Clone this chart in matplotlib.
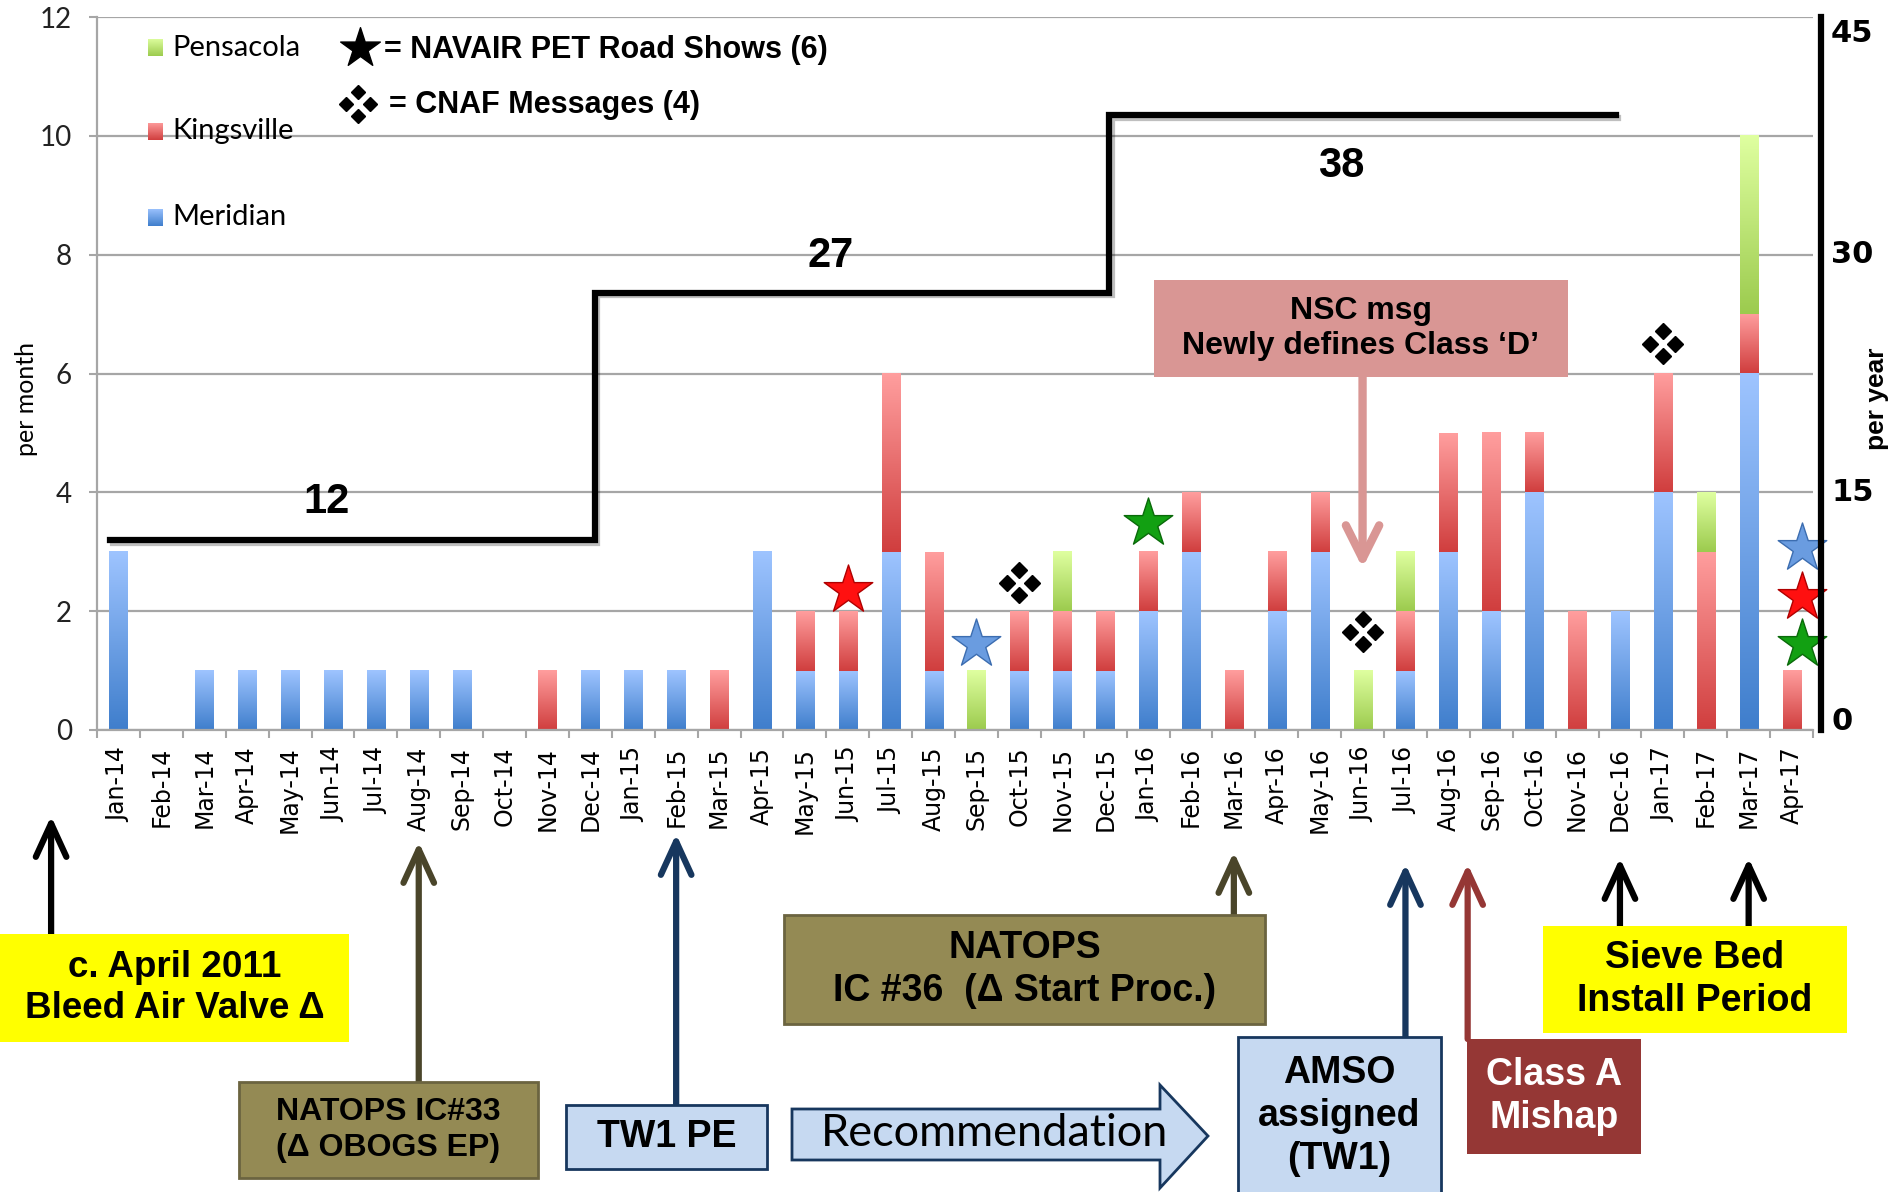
import numpy as np
import matplotlib.pyplot as plt
from matplotlib.colors import LinearSegmentedColormap
from matplotlib.patches import Rectangle, Polygon, FancyArrowPatch
from matplotlib.transforms import offset_copy
import matplotlib.patheffects as pe

# data
months = ['Jan-14', 'Feb-14', 'Mar-14', 'Apr-14', 'May-14', 'Jun-14', 'Jul-14', 'Aug-14',
          'Sep-14', 'Oct-14', 'Nov-14', 'Dec-14', 'Jan-15', 'Feb-15', 'Mar-15', 'Apr-15',
          'May-15', 'Jun-15', 'Jul-15', 'Aug-15', 'Sep-15', 'Oct-15', 'Nov-15', 'Dec-15',
          'Jan-16', 'Feb-16', 'Mar-16', 'Apr-16', 'May-16', 'Jun-16', 'Jul-16', 'Aug-16',
          'Sep-16', 'Oct-16', 'Nov-16', 'Dec-16', 'Jan-17', 'Feb-17', 'Mar-17', 'Apr-17']
meridian = [3, 0, 1, 1, 1, 1, 1, 1, 1, 0, 0, 1, 1, 1, 0, 3, 1, 1, 3, 1,
            0, 1, 1, 1, 2, 3, 0, 2, 3, 0, 1, 3, 2, 4, 0, 2, 4, 0, 6, 0]
kingsville = [0, 0, 0, 0, 0, 0, 0, 0, 0, 0, 1, 0, 0, 0, 1, 0, 1, 1, 3, 2,
              0, 1, 1, 1, 1, 1, 1, 1, 1, 0, 1, 2, 3, 1, 2, 0, 2, 3, 1, 1]
pensacola = [0, 0, 0, 0, 0, 0, 0, 0, 0, 0, 0, 0, 0, 0, 0, 0, 0, 0, 0, 0,
             1, 0, 1, 0, 0, 0, 0, 0, 0, 1, 1, 0, 0, 0, 0, 0, 0, 1, 3, 0]
series_names = ['Meridian', 'Kingsville', 'Pensacola']

# per-year rate step line (right axis)
right_ticks = [0, 15, 30, 45]
step_x = [-0.2, 11.1, 23.1, 34.9]
step_drawn = [12.0, 27.6, 38.8]
step_labels = ['12', '27', '38']
step_label_pos = [(4.85, 14.4), (16.6, 29.9), (28.5, 35.6)]

# road shows (stars) and CNAF messages (diamonds)
star_x = [17, 20, 24, 39.25, 39.25, 39.25]
star_y = [2.36, 1.44, 3.48, 3.07, 2.24, 1.44]
star_col = ['red', 'blue', 'green', 'blue', 'red', 'green']
cnaf_x = [21, 29, 36]
cnaf_y = [2.48, 1.65, 6.5]

# colours (bottom dark, top light)
grad_cols = {'Meridian': ('#3F7ECC', '#9EC4FF'),
             'Kingsville': ('#D03E3E', '#FF9E9E'),
             'Pensacola': ('#9CCB4E', '#DFFFA0')}
star_face = {'red': '#FF1010', 'blue': '#6A9CE0', 'green': '#12A012'}
star_edge = {'red': '#B00000', 'blue': '#3C6DB0', 'green': '#0A6A0A'}
grey = '#A6A6A6'
olive, olive_dk = '#948A54', '#4A452A'
navy, lightblue = '#17375E', '#C6D9F1'
darkred, pink = '#953735', '#D99694'

W, H = 1895, 1192
fig = plt.figure(figsize=(W / 100, H / 100), dpi=100)
ax = fig.add_axes([97 / W, 1 - 730 / H, (1813 - 97) / W, (730 - 17) / H])

grad = np.linspace(0, 1, 128).reshape(-1, 1)


def grad_seg(axis, xc, y0, y1, cb, ct, w=0.42):
    cmap = LinearSegmentedColormap.from_list('g', [cb, ct])
    axis.imshow(grad, cmap=cmap, origin='lower', aspect='auto', interpolation='bilinear',
                extent=(xc - w / 2, xc + w / 2, y0, y1), zorder=2)


x = np.arange(len(months))
bottom = np.zeros(len(months))
for name, vals in zip(series_names, [meridian, kingsville, pensacola]):
    cb, ct = grad_cols[name]
    for i, v in enumerate(vals):
        if v > 0:
            grad_seg(ax, x[i], bottom[i], bottom[i] + v, cb, ct)
    bottom += np.array(vals)

# stars
for sx, sy, c in zip(star_x, star_y, star_col):
    ax.scatter([sx], [sy], marker='*', s=1350, c=star_face[c], edgecolors=star_edge[c],
               linewidths=1, zorder=6, clip_on=False)


def diamonds(axis, xc, yc, trans, ms=8, gap=9):
    for dx, dy in [(0, gap), (0, -gap), (-gap, 0), (gap, 0)]:
        tr = offset_copy(trans, fig=fig, x=dx, y=dy, units='points')
        axis.plot([xc], [yc], marker='D', ms=ms, color='black', ls='none',
                  transform=tr, clip_on=False, zorder=6)


for cx, cy in zip(cnaf_x, cnaf_y):
    diamonds(ax, cx, cy, ax.transData)

# axes styling
ax.set_xlim(-0.5, len(months) - 0.5)
ax.set_ylim(0, 12)
ax.set_autoscale_on(False)
ax.set_xticks(x)
ax.set_xticklabels(months, rotation=90, fontsize=17, family='DejaVu Sans')
ax.set_xticks(np.arange(-0.5, len(months), 1), minor=True)
ax.tick_params(axis='x', which='major', length=0, pad=12)
ax.tick_params(axis='x', which='minor', length=6, width=1.5, color=grey, direction='out')
ax.set_yticks(range(0, 13, 2))
ax.tick_params(axis='y', length=6, width=1.5, color=grey, pad=12, labelsize=20, labelcolor='#222222')
for lbl in ax.get_yticklabels():
    lbl.set_family('Lato')
ax.yaxis.grid(True, color=grey, lw=1.6)
ax.set_axisbelow(True)
for s in ['top', 'right']:
    ax.spines[s].set_visible(False)
for s in ['left', 'bottom']:
    ax.spines[s].set_color(grey)
    ax.spines[s].set_linewidth(1.6)

# legend
for name, yc in zip(['Pensacola', 'Kingsville', 'Meridian'], [0.957, 0.840, 0.719]):
    sq = ax.inset_axes([0.030, yc - 0.012, 0.0085, 0.024])
    cb, ct = grad_cols[name]
    sq.imshow(grad, cmap=LinearSegmentedColormap.from_list('g', [cb, ct]), origin='lower',
              aspect='auto')
    sq.axis('off')
    ax.text(0.044, yc, name, transform=ax.transAxes, va='center', ha='left', fontsize=21,
            family='Lato', zorder=7)
ax.scatter([0.153], [0.957], transform=ax.transAxes, marker='*', s=900, c='black', zorder=7,
           clip_on=False)
ax.text(0.167, 0.954, '= NAVAIR PET Road Shows (6)', transform=ax.transAxes, va='center',
        ha='left', fontsize=22, family='Liberation Sans', weight='bold')
diamonds(ax, 0.152, 0.878, ax.transAxes, ms=7.5, gap=8.5)
ax.text(0.170, 0.877, '= CNAF Messages (4)', transform=ax.transAxes, va='center', ha='left',
        fontsize=22, family='Liberation Sans', weight='bold')

# right axis: per year
ax2 = ax.twinx()
ax2.set_ylim(0, 45)
ax2.set_yticks(right_ticks)
ax2.set_yticklabels([])
ax2.tick_params(axis='y', length=0)
for s in ['top', 'left', 'bottom']:
    ax2.spines[s].set_visible(False)
ax2.spines['right'].set_linewidth(4.5)
ax2.spines['right'].set_color('black')
ax2.spines['right'].set_position(('outward', 6))
# tick labels placed by hand: the end ones sit inside the axis span
for t in right_ticks:
    dy = -12 if t == right_ticks[-1] else (6 if t == right_ticks[0] else 0)
    tr = offset_copy(ax2.get_yaxis_transform(), fig=fig, x=13, y=dy, units='points')
    ax2.text(1.0, t, str(t), transform=tr, ha='left', va='center', fontsize=22,
             weight='bold', family='DejaVu Sans', clip_on=False)

sx, sy = [], []
for k, lev in enumerate(step_drawn):
    sx += [step_x[k], step_x[k + 1]]
    sy += [lev, lev]
ax2.plot(sx, sy, color='black', lw=4.5, solid_joinstyle='miter', zorder=5,
         path_effects=[pe.SimpleLineShadow(offset=(2, -2), alpha=0.25), pe.Normal()])
for lab, (lx, ly) in zip(step_labels, step_label_pos):
    ax2.text(lx, ly, lab, ha='center', va='center', fontsize=30, weight='bold',
             family='Liberation Sans')

fig.text(27 / W, 1 - 399 / H, 'per month', rotation=90, ha='center', va='center',
         fontsize=18, family='Lato')
fig.text(1877 / W, 1 - 399 / H, 'per year', rotation=90, ha='center', va='center',
         fontsize=19, weight='bold', family='Liberation Sans')

# annotation layer in pixel coordinates
ov = fig.add_axes([0, 0, 1, 1], zorder=10)
ov.set_xlim(0, W)
ov.set_ylim(H, 0)
ov.axis('off')


def month_px(pos):
    return ax.transData.transform((pos, 0))[0]


def box(x0, y0, x1, y1, text, fc, ec=None, tc='black', fs=24, ls=1.25, lw=2, family='Liberation Sans', weight='bold'):
    ov.add_patch(Rectangle((x0, y0), x1 - x0, y1 - y0, facecolor=fc,
                           edgecolor=ec if ec else 'none', lw=lw))
    ov.text((x0 + x1) / 2, (y0 + y1) / 2, text, ha='center', va='center', fontsize=fs,
            color=tc, weight=weight, family=family, linespacing=ls)


def up_arrow(xp, tip, base, color, lw=4.5):
    ov.add_patch(FancyArrowPatch((xp, base), (xp, tip), arrowstyle='->,head_length=1.2,head_width=0.55',
                                 mutation_scale=20, lw=lw, color=color, capstyle='round',
                                 joinstyle='round', shrinkA=0, shrinkB=0))


arrows = [(-1.57, 816, 934, 'black'), (7, 842, 1082, olive_dk), (13, 834, 1105, navy),
          (26, 852, 915, olive_dk), (30, 864, 1037, navy), (31.45, 864, 1039, darkred),
          (35, 858, 926, 'black'), (38, 858, 926, 'black')]
for pos, tip, base, col in arrows:
    up_arrow(month_px(pos), tip, base, col)

box(0, 934, 349, 1042, 'c. April 2011\nBleed Air Valve Δ', '#FFFF00', fs=26.5)
box(239, 1082, 538, 1178, 'NATOPS IC#33\n(Δ OBOGS EP)', olive, ec='#6B6440', fs=23)
box(566, 1105, 767, 1169, 'TW1 PE', lightblue, ec=navy, fs=27)
box(784, 915, 1265, 1024, 'NATOPS\nIC #36  (Δ Start Proc.)', olive, ec='#6B6440', fs=27)
box(1238, 1037, 1441, 1195, 'AMSO\nassigned\n(TW1)', lightblue, ec=navy, fs=27)
box(1467, 1039, 1641, 1154, 'Class A\nMishap', darkred, tc='white', fs=27)
box(1543, 926, 1847, 1033, 'Sieve Bed\nInstall Period', '#FFFF00', fs=27)

# Recommendation block arrow
rec = [(792, 1109), (1160, 1109), (1160, 1085), (1208, 1136), (1160, 1188), (1160, 1160),
       (792, 1160)]
ov.add_patch(Polygon(rec, closed=True, facecolor=lightblue, edgecolor=navy, lw=2))
ov.text(995, 1133, 'Recommendation', ha='center', va='center', fontsize=32.5, family='Lato')

# NSC message box with arrow down into the chart
nsc_x = month_px(29)
ov.add_patch(FancyArrowPatch((nsc_x, 377), (nsc_x, 568), arrowstyle='->,head_length=1.2,head_width=0.6',
                             mutation_scale=20, lw=6, color=pink, capstyle='round',
                             joinstyle='round', shrinkA=0, shrinkB=0))
box(1154, 280, 1568, 377, 'NSC msg\nNewly defines Class \u2018D\u2019', pink, fs=23)

fig.savefig('out.png', dpi=100)
